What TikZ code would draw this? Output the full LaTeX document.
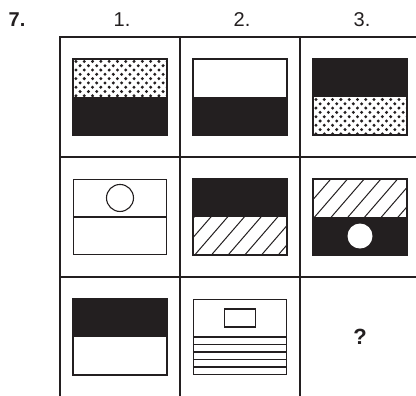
\documentclass[tikz,border=0pt]{standalone}
\usepackage{fontspec}
\setmainfont{Liberation Sans}
\usepackage{xcolor}
\usetikzlibrary{positioning,calc}

\definecolor{ink}{HTML}{231F20}

% dotted band: #1 top left corner, #2 bottom right corner
\newcommand{\dotband}[2]{%
  \begin{scope}
    \clip (#1) rectangle (#2);
    \foreach \j in {0,...,9}{
      \foreach \i in {0,...,12}{
        \fill[ink] ($(#1)+({\i*8.3+mod(\j,2)*4.15+3},{\j*4.3+2.5})$) circle[radius=1.65pt];
      }
    }
  \end{scope}}

% hatched band: #1 top left corner, #2 bottom right corner
\newcommand{\hatchband}[2]{%
  \begin{scope}
    \clip (#1) rectangle (#2);
    \foreach \i in {-4,...,7}
      \draw[ink, line width=1pt] ($(#1)+(\i*16.7,40)$) -- ++(45,-52);
  \end{scope}}

\begin{document}
\begin{tikzpicture}[x=1pt, y=-1pt, node distance=0pt,
    cell/.style={draw=ink, line width=1.2pt, minimum width=120pt,
      minimum height=120pt, inner sep=0pt, outer sep=0pt},
    card/.style={draw=ink, line width=1.1pt, minimum width=93pt,
      minimum height=75pt, inner sep=0pt},
    head/.style={font=\fontsize{20}{24}\selectfont, text=ink}]
  \useasboundingbox (0,0) rectangle (416,396);

  % the grid
  \node[cell] (c11) at (120,97) {};
  \node[cell, right=of c11] (c12) {};
  \node[cell, right=of c12] (c13) {};
  \node[cell, below=of c11] (c21) {};
  \node[cell, right=of c21] (c22) {};
  \node[cell, right=of c22] (c23) {};
  \node[cell, below=of c21] (c31) {};
  \node[cell, right=of c31] (c32) {};
  \node[cell, right=of c32] (c33) {};

  % headings
  \node[head, anchor=base] (qno) at (17,27) {\bfseries 7.};
  \node[head, anchor=base] (h1) at (122,27) {1.};
  \node[head, anchor=base] (h2) at (242,27) {2.};
  \node[head, anchor=base] (h3) at (362,27) {3.};

  % row 1
  \node[card] (p11) at (c11) {};
  \dotband{p11.north west}{p11.east}
  \fill[ink] (p11.west) rectangle (p11.south east);
  \node[card] (p12) at (c12) {};
  \fill[ink] (p12.west) rectangle (p12.south east);
  \node[card] (p13) at (c13) {};
  \fill[ink] (p13.north west) rectangle (p13.east);
  \dotband{p13.west}{p13.south east}
  \draw[ink, line width=1.1pt] (p11.north west) rectangle (p11.south east)
    (p12.north west) rectangle (p12.south east)
    (p13.north west) rectangle (p13.south east);

  % row 2
  \node[card] (p21) at (c21) {};
  \draw[ink, line width=1.1pt] (p21.west) -- (p21.east);
  \draw[ink, line width=1.1pt] ($(p21.north)!0.5!(p21.center)$) circle[radius=13.5pt];
  \node[card] (p22) at (c22) {};
  \fill[ink] (p22.north west) rectangle (p22.east);
  \hatchband{p22.west}{p22.south east}
  \node[card] (p23) at (c23) {};
  \hatchband{p23.north west}{p23.east}
  \fill[ink] (p23.west) rectangle (p23.south east);
  \fill[white] ($(p23.south)!0.5!(p23.center)$) circle[radius=12.5pt];
  \draw[ink, line width=1.1pt] (p22.north west) rectangle (p22.south east)
    (p23.north west) rectangle (p23.south east);

  % row 3
  \node[card] (p31) at (c31) {};
  \fill[ink] (p31.north west) rectangle (p31.east);
  \draw[ink, line width=1.1pt] (p31.north west) rectangle (p31.south east);
  \node[card] (p32) at (c32) {};
  \node[draw=ink, line width=1.1pt, minimum width=31pt, minimum height=18pt,
    inner sep=0pt] (win) at ($(p32.north)!0.5!(p32.center)$) {};
  \foreach \k in {0,...,4}
    \draw[ink, line width=1.1pt] ($(p32.west)+(0,\k*7.5)$) -- ($(p32.east)+(0,\k*7.5)$);
  \node[head, font=\fontsize{22}{26}\selectfont] (ask) at (c33) {\bfseries ?};
\end{tikzpicture}
\end{document}
